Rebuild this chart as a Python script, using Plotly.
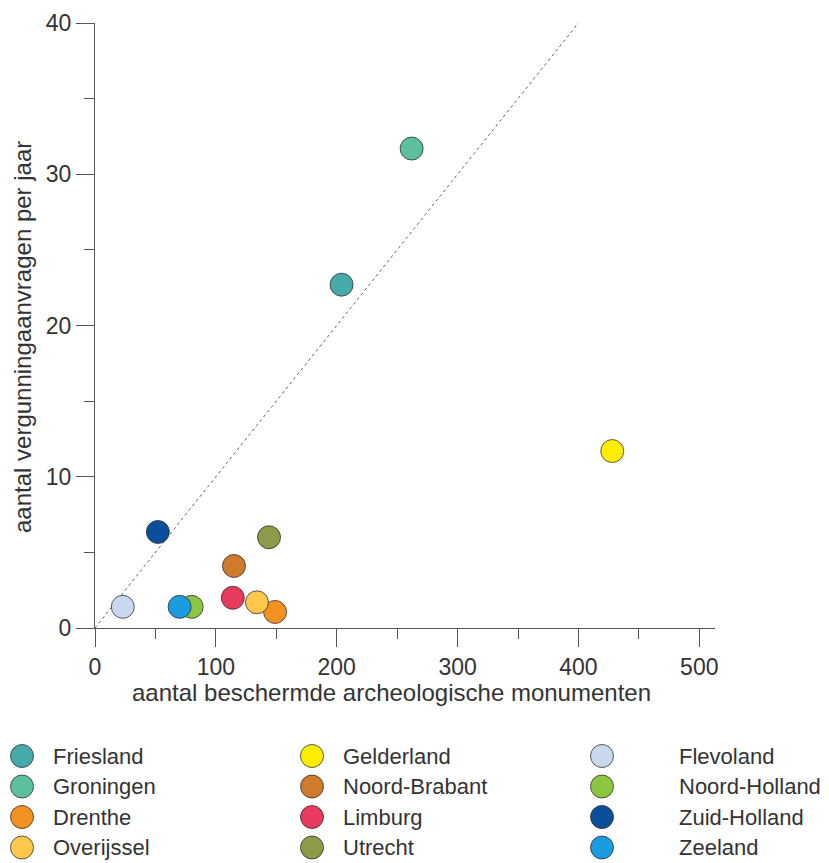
import plotly.graph_objects as go

# Provinces with number of protected archaeological monuments (x)
# and number of permit applications per year (y)
provinces = [
    "Friesland", "Groningen", "Drenthe", "Overijssel",
    "Gelderland", "Noord-Brabant", "Limburg", "Utrecht",
    "Flevoland", "Noord-Holland", "Zuid-Holland", "Zeeland",
]
monumenten = [204, 262, 149, 134, 428, 115, 114, 144, 23, 80, 52, 70]
aanvragen = [22.7, 31.7, 1.06, 1.7, 11.7, 4.1, 2.0, 6.0, 1.4, 1.4, 6.35, 1.4]
colors = [
    "#45aaa8", "#5dbf9b", "#f39022", "#fdc84c",
    "#ffed00", "#d07a2c", "#e8395f", "#8b9b47",
    "#c9d8ef", "#8cc63f", "#0b4f9c", "#1b9ce0",
]

# Reference line: one permit application per ten monuments
ratio_x = [0, 400]
ratio_y = [0, 40]

x_ticks = [0, 100, 200, 300, 400, 500]
y_ticks = [0, 10, 20, 30, 40]

x_title = "aantal beschermde archeologische monumenten"
y_title = "aantal vergunningaanvragen per jaar"

W, H = 829, 863
FONT = "Liberation Sans, Arial, Helvetica, sans-serif"
TXT = "#333333"
AX = "#555555"

fig = go.Figure()

fig.add_trace(go.Scatter(
    x=ratio_x, y=ratio_y, mode="lines",
    line=dict(color="#666666", width=1, dash="dot"),
    hoverinfo="skip", showlegend=False,
))

for name, xv, yv, c in zip(provinces, monumenten, aanvragen, colors):
    fig.add_trace(go.Scatter(
        x=[xv], y=[yv], mode="markers", name=name,
        marker=dict(size=23, color=c, line=dict(color="rgba(40,40,40,0.75)", width=1)),
        cliponaxis=False, showlegend=False,
    ))

# Legend drawn on its own hidden axes: 3 columns of 4 rows
col_marker = [22, 312, 602]
col_label = [52, 342, 678]
row0, row_step = 26, 30.5
for i, (name, c) in enumerate(zip(provinces, colors)):
    col, row = divmod(i, 4)
    yy = row0 + row * row_step
    fig.add_trace(go.Scatter(
        x=[col_marker[col]], y=[yy], mode="markers", xaxis="x2", yaxis="y2",
        marker=dict(size=23, color=c, line=dict(color="rgba(40,40,40,0.75)", width=1)),
        cliponaxis=False, showlegend=False, hoverinfo="skip",
    ))
    fig.add_annotation(
        x=col_label[col], y=yy, xref="x2", yref="y2", text=name,
        showarrow=False, xanchor="left", yanchor="middle", borderpad=0,
        font=dict(family=FONT, size=22, color=TXT),
    )

# Axis titles
fig.add_annotation(
    x=391 / W, y=1 - 692 / H, xref="paper", yref="paper", text=x_title,
    showarrow=False, xanchor="center", yanchor="middle",
    font=dict(family=FONT, size=24, color=TXT),
)
fig.add_annotation(
    x=22 / W, y=1 - 337 / H, xref="paper", yref="paper", text=y_title,
    showarrow=False, xanchor="center", yanchor="middle", textangle=-90,
    font=dict(family=FONT, size=24, color=TXT),
)

axis_common = dict(
    showgrid=False, zeroline=False, showline=True,
    linecolor=AX, linewidth=1.2,
    ticks="outside", ticklen=18, tickwidth=1.2, tickcolor=AX,
    tickfont=dict(family=FONT, size=23, color=TXT),
    automargin=False,
)

fig.update_layout(
    width=W, height=H,
    margin=dict(l=0, r=0, t=0, b=0),
    paper_bgcolor="white", plot_bgcolor="white",
    font=dict(family=FONT, color=TXT),
    xaxis=dict(
        domain=[95 / W, 715 / W], range=[0, 513],
        tickvals=x_ticks,
        minor=dict(dtick=50, tick0=0, ticks="outside", ticklen=10, tickwidth=1.2, tickcolor=AX),
        **axis_common,
    ),
    yaxis=dict(
        domain=[1 - 628 / H, 1 - 23 / H], range=[0, 40],
        tickvals=y_ticks,
        minor=dict(dtick=5, tick0=0, ticks="outside", ticklen=10, tickwidth=1.2, tickcolor=AX),
        **axis_common,
    ),
    xaxis2=dict(domain=[0, 1], range=[0, W], visible=False, anchor="y2", fixedrange=True),
    yaxis2=dict(domain=[0, 133 / H], range=[133, 0], visible=False, anchor="x2", fixedrange=True),
    showlegend=False,
)

fig.write_html("out.html")
